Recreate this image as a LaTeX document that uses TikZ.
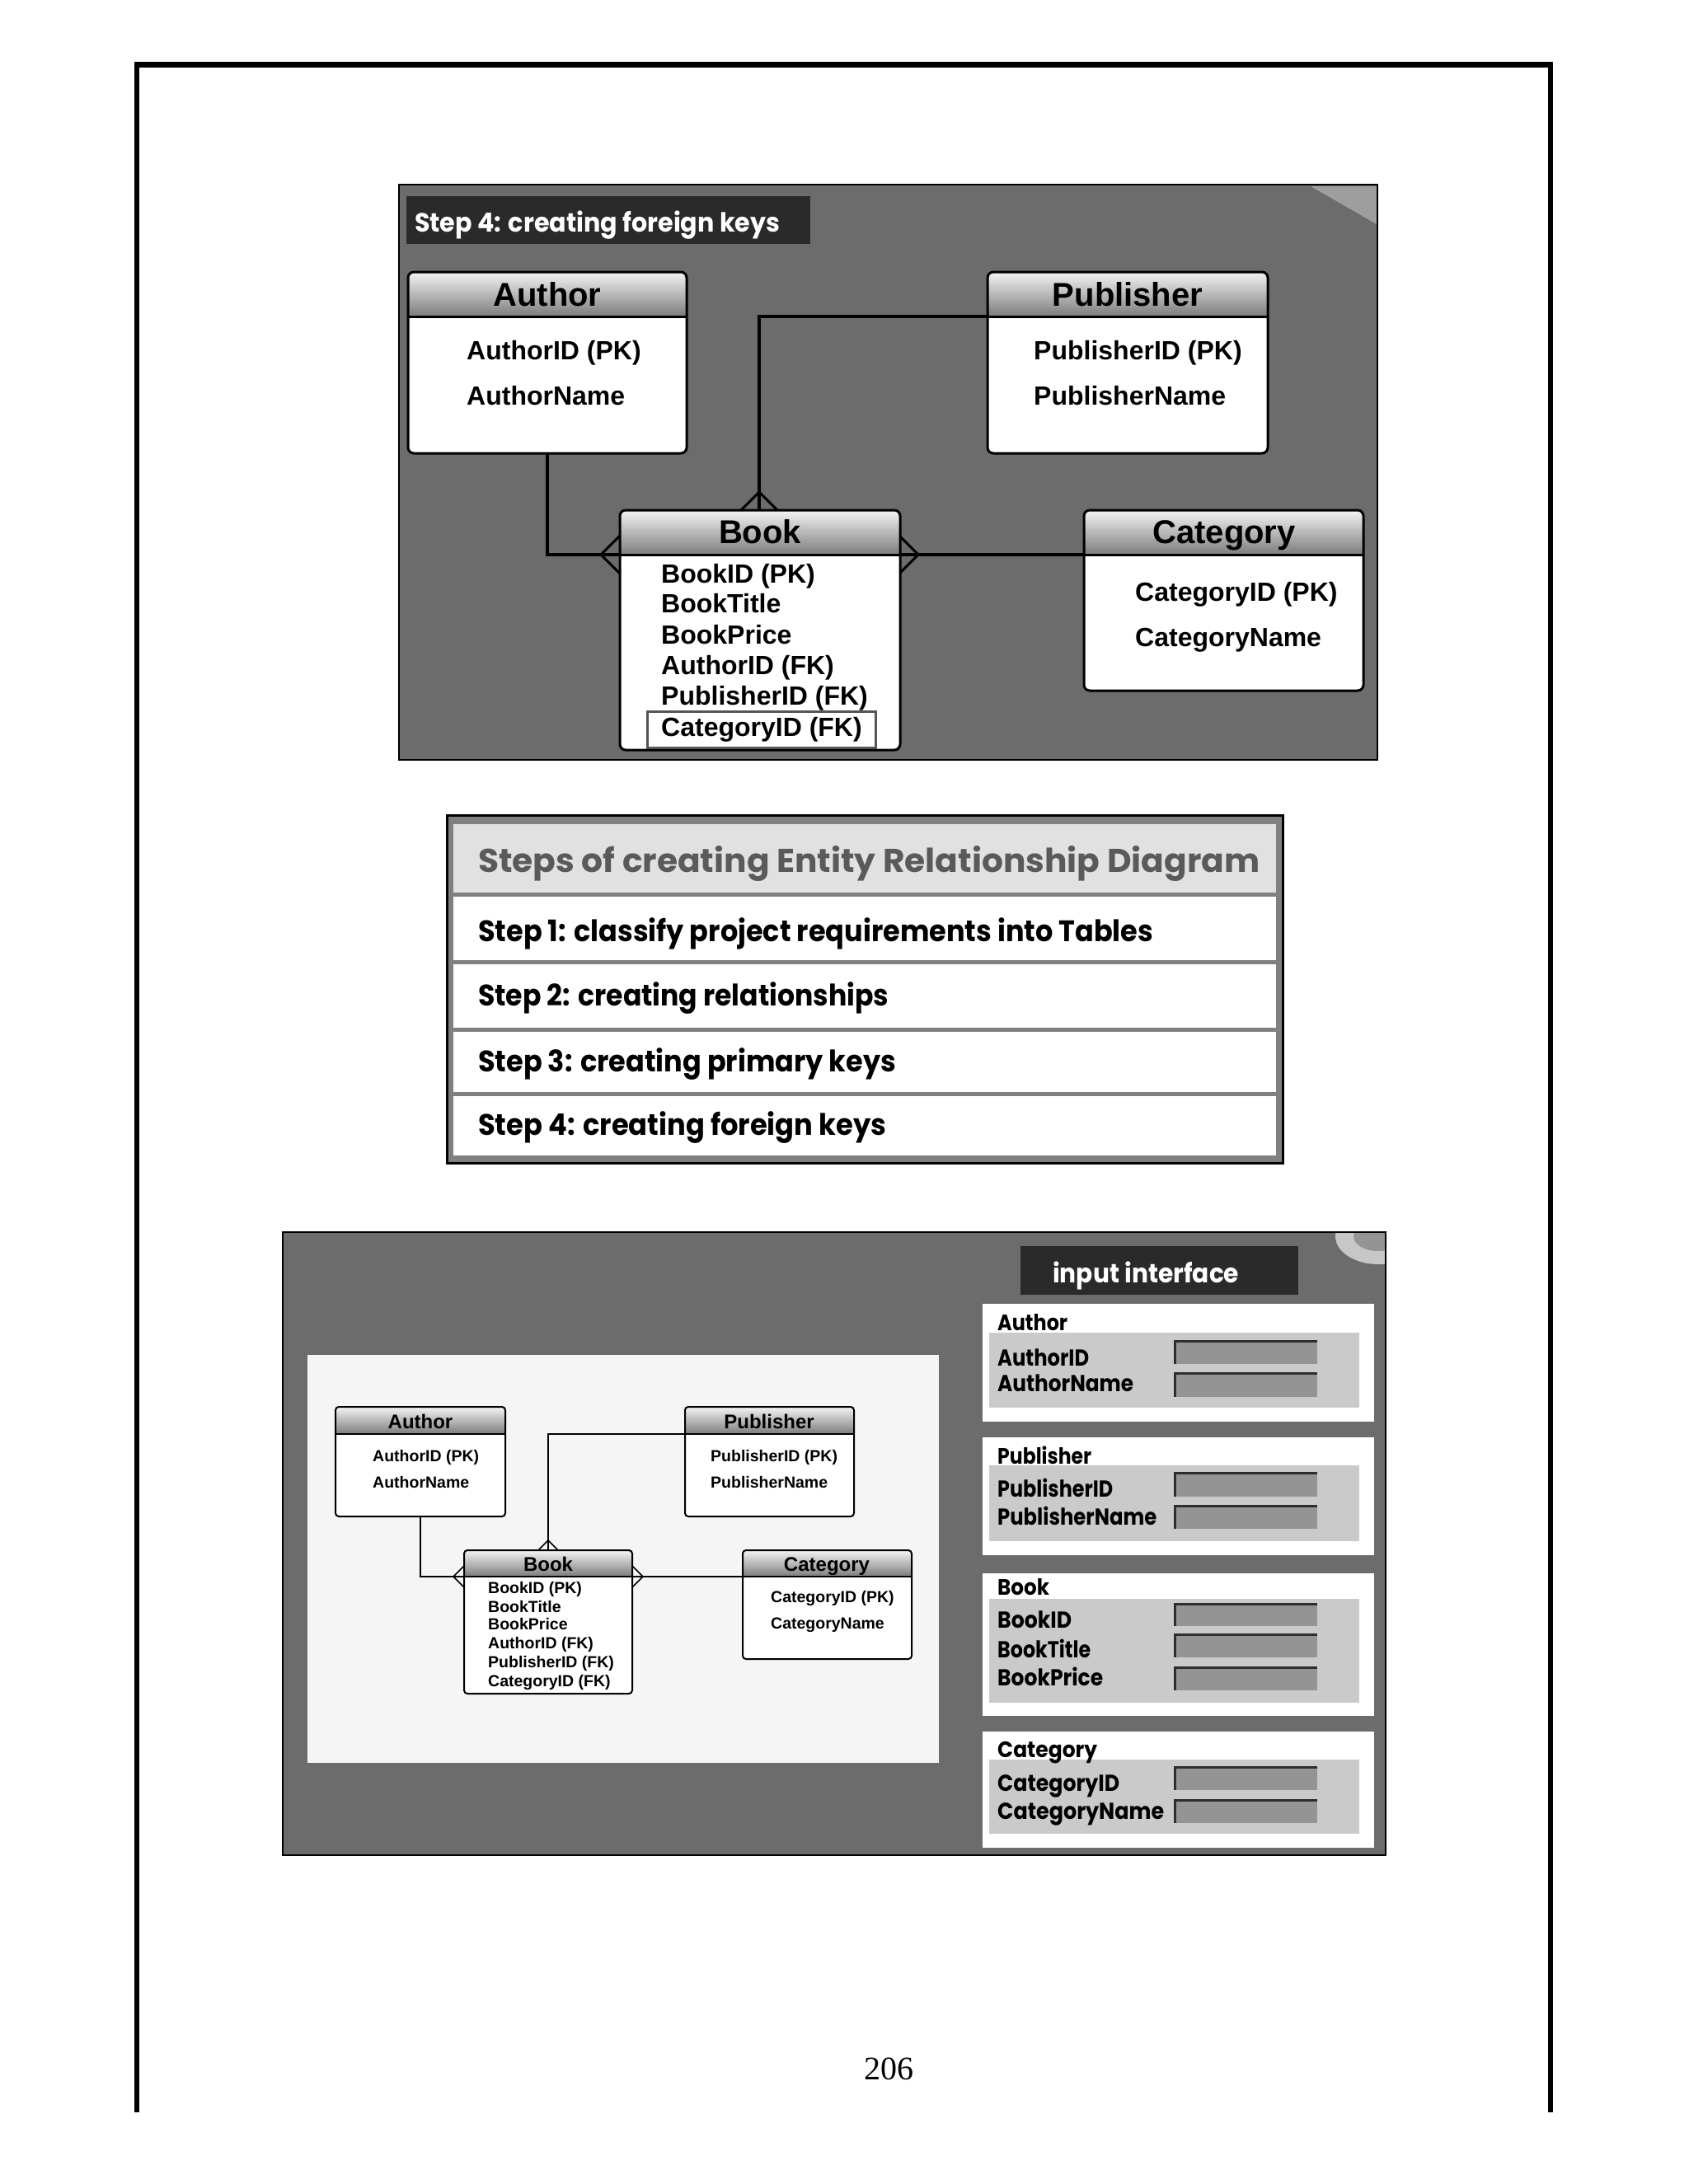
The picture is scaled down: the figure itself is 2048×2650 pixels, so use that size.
\documentclass[tikz,border=0pt]{standalone}
\usepackage{fontspec}
\usepackage{graphicx}
\setmainfont{Liberation Sans}
\newfontfamily\gothic{Poppins}
\newfontfamily\numfont{Liberation Serif}
\usetikzlibrary{calc,fit}
\definecolor{panelbg}{HTML}{6C6C6C}
\definecolor{labelbg}{HTML}{2A2A2A}
\definecolor{hdtop}{HTML}{F4F4F4}
\definecolor{hdbot}{HTML}{7C7C7C}
\definecolor{tblframe}{HTML}{808080}
\definecolor{tblhead}{HTML}{E1E1E1}
\definecolor{tblhtext}{HTML}{5A5A5A}
\definecolor{formin}{HTML}{CACACA}
\definecolor{fieldbg}{HTML}{949494}
\definecolor{fieldln}{HTML}{2E2E2E}
\definecolor{diagbg}{HTML}{F5F5F5}
\definecolor{hilite}{HTML}{555555}

\newcommand\fw[2]{\resizebox{#1pt}{\height}{#2}}

% entity box: name, x1, y1, x2, y2, y of header bottom, line width, corner radius
\newcommand\erdbox[8]{%
  \node[inner sep=0pt, fill=white, rounded corners=#8pt, fit={(#2,#3)(#4,#5)}] (#1) {};
  \begin{scope}
    \clip[rounded corners=#8pt] (#2,#3) rectangle (#4,#5);
    \shade[top color=hdtop, bottom color=hdbot] (#2,#3) rectangle (#4,#6);
  \end{scope}
  \coordinate (#1L) at (#2,#6);
  \coordinate (#1R) at (#4,#6);
  \draw[line width=#7pt] (#1L) -- (#1R);
  \draw[line width=#7pt, rounded corners=#8pt] (#2,#3) rectangle (#4,#5);
}
% crow's feet: coordinate, spread, line width
\newcommand\crowL[3]{\draw[line width=#3pt] ($(#1)+(0,-#2)$) -- ($(#1)+(-#2,0)$) -- ($(#1)+(0,#2)$);}
\newcommand\crowR[3]{\draw[line width=#3pt] ($(#1)+(0,-#2)$) -- ($(#1)+(#2,0)$) -- ($(#1)+(0,#2)$);}
\newcommand\crowT[3]{\draw[line width=#3pt] ($(#1)+(-#2,0)$) -- ($(#1)+(0,-#2)$) -- ($(#1)+(#2,0)$);}

% form panel: name, y1, y2, inner y1, inner y2, title, title baseline, title width
\newcommand\formbox[8]{%
  \node[inner sep=0pt, fill=white, fit={(1192,#2)(1667,#3)}] (#1) {};
  \node[inner sep=0pt, fill=formin, fit={(1200,#4)(1649,#5)}] (#1in) {};
  \node[gth=27] (#1t) at (1210,#7) {\fw{#8}{#6}};
}
% form row: name, baseline, label, label width, field y1, field y2
\newcommand\formrow[6]{%
  \node[gth=28] (#1) at (1210,#2) {\fw{#4}{#3}};
  \node[inner sep=0pt, fill=fieldbg, fit={(1425,#5)(1598,#6)}] (#1f) {};
  \draw[line width=3pt, fieldln] (1425,#6) -- (1425,#5) -- (1598,#5);
}

\tikzset{
  x=1pt, y=-1pt,
  ttlB/.style={anchor=base, inner sep=0pt, font=\bfseries\fontsize{40}{40}\selectfont},
  attB/.style={anchor=base west, inner sep=0pt, font=\bfseries\fontsize{32}{32}\selectfont},
  ttlS/.style={anchor=base, inner sep=0pt, font=\bfseries\fontsize{24}{24}\selectfont},
  attS/.style={anchor=base west, inner sep=0pt, font=\bfseries\fontsize{19.5}{19.5}\selectfont},
  connB/.style={line width=4pt},
  connS/.style={line width=2pt},
  gth/.style={anchor=base west, inner sep=0pt, font=\gothic\bfseries\fontsize{#1}{#1}\selectfont},
}

\begin{document}
\begin{tikzpicture}
\useasboundingbox (0,0) rectangle (2048,2650);
\fill[white] (0,0) rectangle (2048,2650);

% page frame
\draw[line width=6.5pt] (166,2563) -- (166,78.5) -- (1881,78.5) -- (1881,2563);

% ================= top panel =================
\fill[panelbg] (484,224) rectangle (1671,922);
\fill[black!38] (1590,226) -- (1670,226) -- (1670,272) -- cycle;
\draw[line width=2pt] (484,224) rectangle (1671,922);
\node[inner sep=0pt, fill=labelbg, fit={(493,238)(983,296)}] (lab1) {};
\node[gth=32, text=white] (lab1t) at (503,281) {\fw{443}{Step 4: creating foreign keys}};

\erdbox{A}{495}{330}{833}{550}{384}{3}{7}
\node[ttlB] (At) at (664,371) {Author};
\node[attB] (A1) at (566,436) {AuthorID (PK)};
\node[attB] (A2) at (566,491) {AuthorName};

\erdbox{P}{1198}{330}{1538}{550}{384}{3}{7}
\node[ttlB] (Pt) at (1368,371) {Publisher};
\node[attB] (P1) at (1254,436) {PublisherID (PK)};
\node[attB] (P2) at (1254,491) {PublisherName};

\erdbox{B}{752}{619}{1092}{910}{673}{3}{7}
\node[ttlB] (Bt) at (922,659) {Book};
\node[attB] (B1) at (802,707) {BookID (PK)};
\node[attB] (B2) at (802,743) {BookTitle};
\node[attB] (B3) at (802,781) {BookPrice};
\node[attB] (B4) at (802,818) {AuthorID (FK)};
\node[attB] (B5) at (802,855) {PublisherID (FK)};
\node[attB] (B6) at (802,893) {CategoryID (FK)};
\node[inner sep=0pt, draw=hilite, line width=3pt, fit={(785,863)(1062,907)}] (B6box) {};

\erdbox{C}{1315}{619}{1654}{838}{673}{3}{7}
\node[ttlB] (Ct) at (1485,659) {Category};
\node[attB] (C1) at (1377,729) {CategoryID (PK)};
\node[attB] (C2) at (1377,784) {CategoryName};

\coordinate (BT) at (921,619);
\draw[connB] (A.south) |- (BL);
\draw[connB] (PL) -| (BT);
\draw[connB] (BR) -- (CL);
\crowL{BL}{23}{3}
\crowR{BR}{22}{3}
\crowT{BT}{22}{3}

% ================= steps table =================
\fill[tblframe] (542,989) rectangle (1556,1411);
\fill[tblhead] (550,1000) rectangle (1548,1083);
\fill[white] (550,1088) rectangle (1548,1165);
\fill[white] (550,1170) rectangle (1548,1247);
\fill[white] (550,1252) rectangle (1548,1325);
\fill[white] (550,1330) rectangle (1548,1402);
\draw[line width=3pt] (542,989) rectangle (1556,1411);
\node[gth=40, text=tblhtext] (th) at (580,1058) {\fw{948}{Steps of creating Entity Relationship Diagram}};
\node[gth=36] (s1) at (580,1142) {\fw{819}{Step 1: classify project requirements into Tables}};
\node[gth=36] (s2) at (580,1220) {\fw{498}{Step 2: creating relationships}};
\node[gth=36] (s3) at (580,1300) {\fw{507}{Step 3: creating primary keys}};
\node[gth=36] (s4) at (580,1377) {\fw{495}{Step 4: creating foreign keys}};

% ================= bottom panel =================
\fill[panelbg] (343,1495) rectangle (1681,2251);
\begin{scope}
  \clip (343,1495) rectangle (1681,2251);
  \fill[black!22] (1672,1500) ellipse [x radius=52, y radius=34];
  \fill[black!42] (1672,1500) ellipse [x radius=30, y radius=18];
\end{scope}
\draw[line width=2pt] (343,1495) rectangle (1681,2251);
\fill[diagbg] (373,1644) rectangle (1139,2139);

\erdbox{a}{407}{1707}{613}{1840}{1740}{2}{4}
\node[ttlS] (at) at (510,1733) {Author};
\node[attS] (a1) at (452,1773) {AuthorID (PK)};
\node[attS] (a2) at (452,1805) {AuthorName};

\erdbox{p}{831}{1707}{1036}{1840}{1740}{2}{4}
\node[ttlS] (pt) at (933,1733) {Publisher};
\node[attS] (p1) at (862,1773) {PublisherID (PK)};
\node[attS] (p2) at (862,1805) {PublisherName};

\erdbox{b}{563}{1881}{767}{2055}{1913}{2}{4}
\node[ttlS] (bt) at (665,1906) {Book};
\node[attS] (b1) at (592,1933) {BookID (PK)};
\node[attS] (b2) at (592,1956) {BookTitle};
\node[attS] (b3) at (592,1977) {BookPrice};
\node[attS] (b4) at (592,2000) {AuthorID (FK)};
\node[attS] (b5) at (592,2023) {PublisherID (FK)};
\node[attS] (b6) at (592,2046) {CategoryID (FK)};

\erdbox{c}{901}{1881}{1106}{2013}{1913}{2}{4}
\node[ttlS] (ct) at (1003,1906) {Category};
\node[attS] (c1) at (935,1944) {CategoryID (PK)};
\node[attS] (c2) at (935,1976) {CategoryName};

\coordinate (bT) at (665,1881);
\draw[connS] (a.south) |- (bL);
\draw[connS] (pL) -| (bT);
\draw[connS] (bR) -- (cL);
\crowL{bL}{13}{1.6}
\crowR{bR}{13}{1.6}
\crowT{bT}{12}{1.6}

\node[inner sep=0pt, fill=labelbg, fit={(1238,1512)(1575,1571)}] (lab2) {};
\node[gth=32, text=white] (lab2t) at (1277,1556) {\fw{226}{input interface}};

\formbox{fa}{1582}{1725}{1617}{1708}{Author}{1614}{85}
\formrow{fa1}{1657}{AuthorID}{111}{1627}{1655}
\formrow{fa2}{1688}{AuthorName}{165}{1666}{1695}

\formbox{fp}{1744}{1887}{1778}{1870}{Publisher}{1776}{114}
\formrow{fp1}{1816}{PublisherID}{140}{1787}{1816}
\formrow{fp2}{1850}{PublisherName}{193}{1827}{1855}

\formbox{fb}{1909}{2082}{1940}{2066}{Book}{1935}{63}
\formrow{fb1}{1975}{BookID}{90}{1946}{1973}
\formrow{fb2}{2011}{BookTitle}{113}{1983}{2011}
\formrow{fb3}{2045}{BookPrice}{128}{2023}{2051}

\formbox{fc}{2101}{2242}{2135}{2225}{Category}{2132}{121}
\formrow{fc1}{2173}{CategoryID}{148}{2144}{2172}
\formrow{fc2}{2207}{CategoryName}{202}{2184}{2212}

% page number
\node[anchor=base, inner sep=0pt, font=\numfont\fontsize{40}{40}\selectfont] (pg) at (1078,2523) {206};
\end{tikzpicture}
\end{document}
